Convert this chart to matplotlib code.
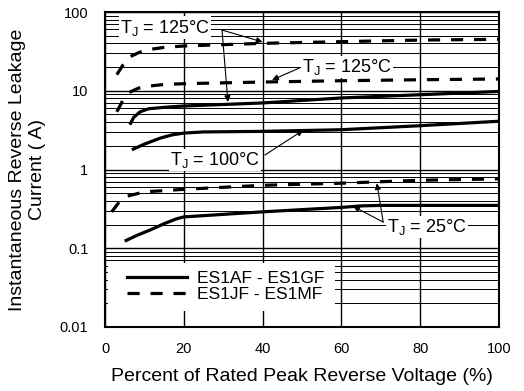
import matplotlib.pyplot as plt
import numpy as np
from matplotlib.patches import Rectangle
from matplotlib.ticker import NullFormatter, LogLocator

plt.rcParams["font.family"] = ["Liberation Sans", "DejaVu Sans"]

# Read-off curve values (percent of rated voltage, current)
x_125_jf = [3, 4.5, 6.3, 8.9, 11.4, 15, 20, 30, 40, 60, 80, 100]
y_125_jf = [16, 21, 27, 31, 33.5, 35.5, 37, 38.5, 40, 42, 44, 45]

x_125_jf_b = [3, 4.5, 6.3, 8.5, 11.4, 15, 20, 40, 60, 80, 100]
y_125_jf_b = [5.4, 7.5, 9.6, 10.8, 11.5, 12.0, 12.3, 12.9, 13.4, 13.8, 14.1]

x_125_af = [6.3, 7.3, 8.9, 11, 15.7, 20, 40, 60, 80, 100]
y_125_af = [3.7, 4.6, 5.4, 5.9, 6.2, 6.4, 7.0, 8.1, 8.9, 9.8]

x_100_af = [6.8, 10, 14, 17, 20, 25, 40, 60, 80, 100]
y_100_af = [1.78, 2.1, 2.5, 2.75, 2.9, 3.0, 3.05, 3.2, 3.6, 4.1]

x_25_jf = [1.7, 3.5, 5, 10, 20, 40, 60, 80, 100]
y_25_jf = [0.29, 0.38, 0.45, 0.52, 0.56, 0.63, 0.67, 0.73, 0.76]

x_25_af = [5, 8, 11.4, 15, 18, 20, 40, 60, 65, 70, 100]
y_25_af = [0.123, 0.145, 0.17, 0.205, 0.235, 0.25, 0.29, 0.33, 0.345, 0.35, 0.35]

x_ticks = [0, 20, 40, 60, 80, 100]
y_ticks = [0.01, 0.1, 1, 10, 100]
y_ticklabels = ["0.01", "0.1", "1", "10", "100"]

fig = plt.figure(figsize=(5.24, 3.91), dpi=100)
ax = fig.add_axes([105 / 524, 1 - 327 / 391, 394 / 524, 315 / 391])

dash = (0, (3.8, 3.4))
lw = 2.3
ax.plot(x_125_af, y_125_af, color="black", lw=lw, solid_capstyle="butt")
ax.plot(x_100_af, y_100_af, color="black", lw=lw, solid_capstyle="butt")
ax.plot(x_25_af, y_25_af, color="black", lw=lw, solid_capstyle="butt")
ax.plot(x_125_jf, y_125_jf, color="black", lw=lw, ls=dash)
ax.plot(x_125_jf_b, y_125_jf_b, color="black", lw=lw, ls=dash)
ax.plot(x_25_jf, y_25_jf, color="black", lw=lw, ls=dash)

ax.set_yscale("log")
ax.set_xlim(0, 100)
ax.set_ylim(0.01, 100)
ax.set_xticks(x_ticks)
ax.set_yticks(y_ticks)
ax.set_yticklabels(y_ticklabels)
ax.yaxis.set_minor_locator(LogLocator(base=10, subs=np.arange(2, 10)))
ax.yaxis.set_minor_formatter(NullFormatter())
ax.tick_params(which="both", length=0, labelsize=10.5)
ax.tick_params(axis="y", pad=12)
ax.tick_params(axis="x", pad=10.5)
ax.grid(True, which="major", axis="both", color="black", lw=1.0)
ax.grid(True, which="minor", axis="y", color="black", lw=0.7)
for s in ax.spines.values():
    s.set_linewidth(1.5)

ax.set_xlabel("Percent of Rated Peak Reverse Voltage (%)", fontsize=14, labelpad=9)
ax.set_ylabel("Instantaneous Reverse Leakage\nCurrent ( A)", fontsize=14, labelpad=10)

# legend on a white patch that hides the grid
ax.add_patch(Rectangle((0.008, 0.051), 0.576, 0.152, transform=ax.transAxes,
                       facecolor="white", edgecolor="none", zorder=4))
ax.plot([], [], color="black", lw=lw, label="ES1AF - ES1GF")
ax.plot([], [], color="black", lw=lw, ls=dash, label="ES1JF - ES1MF")
h, l = ax.get_legend_handles_labels()
leg = ax.legend(h[-2:], l[-2:], loc="center left", bbox_to_anchor=(0.056, 0.13),
                frameon=False, fontsize=12.5, handlelength=3.45, handletextpad=0.55,
                borderpad=0, labelspacing=0.05, borderaxespad=0)
leg.set_zorder(5)

box = dict(facecolor="white", edgecolor="none", pad=1)
arrow = dict(arrowstyle="-|>", color="black", lw=0.8, mutation_scale=9, shrinkA=0, shrinkB=0)
tj = r"T$_\mathregular{J}$ = "

ax.text(3.8, 63, tj + "125°C", fontsize=13, bbox=box, va="center")
ax.annotate("", xy=(40, 41.6), xytext=(29.7, 59), arrowprops=arrow)
ax.annotate("", xy=(31.2, 7.2), xytext=(29.7, 59), arrowprops=arrow)

ax.text(50, 20, tj + "125°C", fontsize=13, bbox=box, va="center")
ax.annotate("", xy=(42.4, 13.7), xytext=(49.5, 19.6), arrowprops=arrow)

ax.text(16.5, 1.32, tj + "100°C", fontsize=13, bbox=box, va="center")
ax.annotate("", xy=(50.3, 3.15), xytext=(40.6, 1.53), arrowprops=arrow)

ax.text(71.6, 0.186, tj + "25°C", fontsize=13, bbox=box, va="center")
ax.annotate("", xy=(69, 0.67), xytext=(70.6, 0.215), arrowprops=arrow)
ax.annotate("", xy=(63, 0.34), xytext=(70.6, 0.215), arrowprops=arrow)

fig.savefig("out.png", dpi=100)
